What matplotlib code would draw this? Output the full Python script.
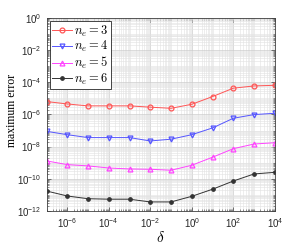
import numpy as np
import matplotlib
matplotlib.use('Agg')
import matplotlib.pyplot as plt

# Data
delta = [1e-7, 1e-6, 1e-5, 1e-4, 1e-3, 1e-2, 1e-1, 1e0, 1e1, 1e2, 1e3, 1e4]
err_n3 = [-5.20, -5.35, -5.47, -5.47, -5.47, -5.55, -5.62, -5.37, -4.89, -4.37, -4.23, -4.19]
err_n4 = [-7.05, -7.26, -7.44, -7.44, -7.44, -7.65, -7.54, -7.26, -6.84, -6.24, -6.01, -5.93]
err_n5 = [-8.89, -9.12, -9.20, -9.33, -9.39, -9.41, -9.47, -9.16, -8.66, -8.13, -7.84, -7.76]
err_n6 = [-10.76, -11.07, -11.24, -11.27, -11.27, -11.44, -11.44, -11.09, -10.65, -10.14, -9.70, -9.60]
labels = ['$n_e = 3$', '$n_e = 4$', '$n_e = 5$', '$n_e = 6$']

plt.rcParams['mathtext.fontset'] = 'cm'
plt.rcParams['font.family'] = 'Liberation Sans'

fig = plt.figure(figsize=(3.04, 2.45), dpi=100)
ax = fig.add_axes([0.153, 0.139, 0.751, 0.788])

series = [err_n3, err_n4, err_n5, err_n6]
colors = ['#ff5555', '#5555ff', '#ff44ff', '#333333']
markers = ['o', 'v', '^', '.']
for vals, c, m, lab in zip(series, colors, markers, labels):
    ms = 5 if m == '.' else 3.5
    ax.plot(delta, 10.0 ** np.array(vals), color=c, marker=m, markersize=ms,
            markerfacecolor='none' if m != '.' else c, markeredgewidth=0.9,
            linewidth=0.7, label=lab)

ax.set_xscale('log')
ax.set_yscale('log')
ax.set_xlim(1e-7, 1e4)
ax.set_ylim(1e-12, 1e0)
ax.set_xticks([1e-6, 1e-4, 1e-2, 1e0, 1e2, 1e4])
ax.set_yticks([10.0 ** k for k in range(-12, 1, 2)])
ax.yaxis.set_minor_locator(matplotlib.ticker.LogLocator(base=10, subs=np.arange(1, 10), numticks=30))
ax.xaxis.set_minor_locator(matplotlib.ticker.LogLocator(base=10, subs=np.arange(1, 10), numticks=30))
ax.yaxis.set_minor_formatter(matplotlib.ticker.NullFormatter())
ax.xaxis.set_minor_formatter(matplotlib.ticker.NullFormatter())

ax.grid(which='major', color='#cccccc', linewidth=0.5)
ax.grid(which='minor', color='#e2e2e2', linewidth=0.4)
ax.set_axisbelow(True)
ax.tick_params(which='both', direction='in', top=True, right=True,
               color='#404040', labelsize=7, labelcolor='#262626')
ax.tick_params(which='major', length=3, width=0.5)
ax.tick_params(which='minor', length=1.5, width=0.4)
for s in ax.spines.values():
    s.set_color('#404040')
    s.set_linewidth(0.6)

ax.set_xlabel(r'$\delta$', fontsize=11, labelpad=0)
ax.set_ylabel('maximum error', fontsize=8.5, family='Liberation Serif')
ax.yaxis.set_label_coords(-0.125, 0.52)

leg = ax.legend(loc='upper left', fontsize=9, frameon=True, fancybox=False,
                edgecolor='#262626', framealpha=1, borderpad=0.2,
                labelspacing=0.05, handlelength=1.6, handletextpad=0.15,
                borderaxespad=0.25)
leg.get_frame().set_linewidth(0.6)

fig.savefig('out.png', dpi=100)
